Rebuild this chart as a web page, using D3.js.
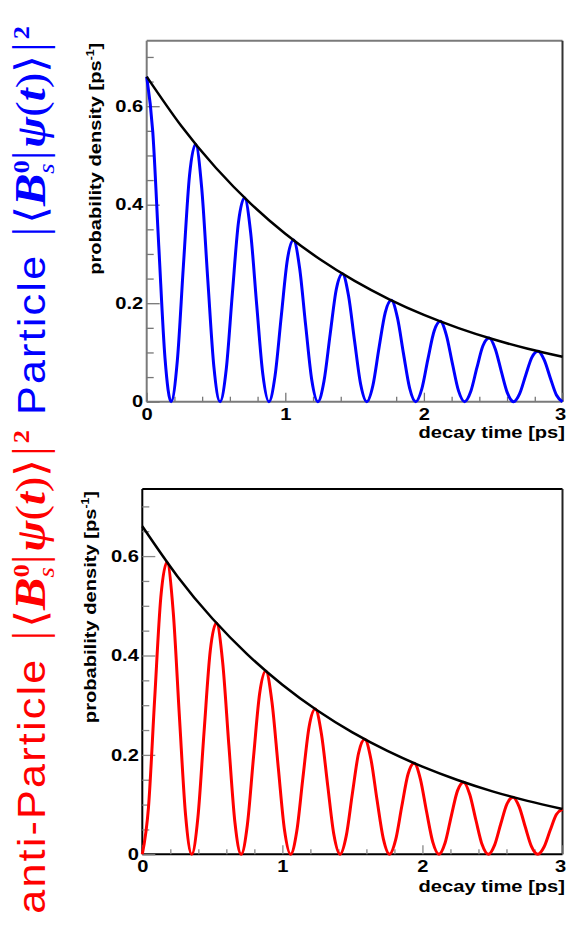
<!DOCTYPE html>
<html><head><meta charset="utf-8">
<script src="https://cdn.jsdelivr.net/npm/d3@7"></script>
<style>body{margin:0;background:#fff}svg{display:block}</style>
</head><body>
<svg id="c" width="566" height="925"></svg>
<script>
// decay time samples [ps]
const times = [0,0.044,0.088,0.132,0.176,0.221,0.265,0.309,0.353,0.397,0.441,0.485,0.529,0.574,0.618,0.662,0.706,0.750,0.794,0.838,0.882,0.926,0.971,1.015,1.059,1.103,1.147,1.191,1.235,1.279,1.324,1.368,1.412,1.456,1.500,1.544,1.588,1.632,1.676,1.721,1.765,1.809,1.853,1.897,1.941,1.985,2.029,2.074,2.118,2.162,2.206,2.250,2.294,2.338,2.382,2.426,2.471,2.515,2.559,2.603,2.647,2.691,2.735,2.779,2.824,2.868,2.912,2.956,3.000];
// particle probability density
const particleValues = [0.660,0.5472,0.3113,0.0885,0,0.0835,0.2771,0.4595,0.5229,0.4335,0.2466,0.0701,0,0.0662,0.2195,0.3640,0.4142,0.3434,0.1954,0.0556,0,0.0524,0.1739,0.2884,0.3281,0.2721,0.1548,0.0440,0,0.0415,0.1378,0.2284,0.2600,0.2155,0.1226,0.0349,0,0.0329,0.1091,0.1810,0.2059,0.1707,0.0971,0.0276,0,0.0261,0.0865,0.1434,0.1631,0.1353,0.0770,0.0219,0,0.0206,0.0685,0.1136,0.1292,0.1072,0.0610,0.0173,0,0.0164,0.0543,0.0900,0.1024,0.0849,0.0483,0.0137,0];
// anti-particle probability density
const antiParticleValues = [0,0.0939,0.3113,0.5163,0.5874,0.4870,0.2771,0.0788,0,0.0743,0.2466,0.4090,0.4654,0.3858,0.2195,0.0624,0,0.0589,0.1954,0.3240,0.3687,0.3057,0.1739,0.0495,0,0.0467,0.1548,0.2567,0.2921,0.2421,0.1378,0.0392,0,0.0370,0.1226,0.2033,0.2314,0.1918,0.1091,0.0310,0,0.0293,0.0971,0.1611,0.1833,0.1520,0.0865,0.0246,0,0.0232,0.0770,0.1276,0.1452,0.1204,0.0685,0.0195,0,0.0184,0.0610,0.1011,0.1150,0.0954,0.0543,0.0154,0,0.0146,0.0483,0.0801,0.0911];
// envelope (no oscillation)
const envTimes = [0,0.25,0.5,0.75,1.0,1.25,1.5,1.75,2.0,2.25,2.5,2.75,3.0];
const envValues = [0.660,0.5596,0.4745,0.4023,0.3411,0.2892,0.2452,0.2079,0.1763,0.1495,0.1267,0.1075,0.0911];
// ticks
const xTickLabels = [0,1,2,3];
const xMinorTicks = [0.2,0.4,0.6,0.8,1.2,1.4,1.6,1.8,2.2,2.4,2.6,2.8];
const yTickLabels = [0,0.2,0.4,0.6];
const yMinorTicks = [0.05,0.1,0.15,0.25,0.3,0.35,0.45,0.5,0.55,0.65,0.7];
const xTitle = "decay time [ps]";
const yTitle = "probability density [ps";

const svg = d3.select("#c");
const FONT = "'Liberation Sans', Arial, Helvetica, sans-serif";
const SX = 1.22;
const FS = 16.5;

const panels = [
  {left:146.7, right:562.5, top:40.7, bottom:401.7, ymax:0.733, values:particleValues, color:"#0000ff",
   frame:"#7a7a7a", frameRight:"#333", tick:"#777", ylabX:101, xlabPad:7, xTitleY:438},
  {left:142.3, right:562.5, top:489, bottom:854.3, ymax:0.735, values:antiParticleValues, color:"#ff0000",
   frame:"#000", frameRight:"#222", tick:"#888", ylabX:96, xlabPad:6, xTitleY:892}
];

panels.forEach(p => {
  const x = d3.scaleLinear().domain([0,3]).range([p.left, p.right]);
  const y = d3.scaleLinear().domain([0,p.ymax]).range([p.bottom, p.top]);
  const g = svg.append("g");

  // frame
  const fr = g.append("g").attr("fill","none").attr("stroke-width",2);
  fr.append("line").attr("x1",p.left).attr("x2",p.right).attr("y1",p.top).attr("y2",p.top).attr("stroke",p.frame);
  fr.append("line").attr("x1",p.left).attr("x2",p.left).attr("y1",p.top).attr("y2",p.bottom).attr("stroke",p.frame);
  fr.append("line").attr("x1",p.left).attr("x2",p.right).attr("y1",p.bottom).attr("y2",p.bottom).attr("stroke",p.frame);
  fr.append("line").attr("x1",p.right).attr("x2",p.right).attr("y1",p.top).attr("y2",p.bottom).attr("stroke",p.frameRight);

  // x axis
  const xa = g.append("g").attr("transform",`translate(0,${p.bottom})`)
    .call(d3.axisBottom(x).tickValues(xTickLabels).tickSize(-9).tickPadding(p.xlabPad).tickFormat(d3.format("d")));
  g.append("g").attr("transform",`translate(0,${p.bottom})`)
    .call(d3.axisBottom(x).tickValues(xMinorTicks).tickSize(-5).tickFormat(""))
    .call(s=>s.select(".domain").remove());
  // y axis
  const ya = g.append("g").attr("transform",`translate(${p.left},0)`)
    .call(d3.axisLeft(y).tickValues(yTickLabels).tickSize(-13).tickPadding(2.8)
      .tickFormat(d => d===0 ? "0" : d3.format(".1f")(d)));
  g.append("g").attr("transform",`translate(${p.left},0)`)
    .call(d3.axisLeft(y).tickValues(yMinorTicks).tickSize(-7).tickFormat(""))
    .call(s=>s.select(".domain").remove());

  g.selectAll(".domain").remove();
  g.selectAll(".tick line").attr("stroke",p.tick).attr("stroke-width",1.3);
  g.selectAll(".tick text").attr("fill","#000").attr("font-family",FONT)
    .attr("font-size",FS).attr("font-weight","bold").attr("transform",`scale(${SX},1)`);
  ya.selectAll(".tick text").attr("x",-2.8);
  // keep the last x label inside the page edge
  xa.selectAll(".tick text").filter(d => d === 3).attr("text-anchor","end").attr("x",3.2/SX);

  // curves
  const line = d3.line().x((d,i)=>x(times[i])).y(d=>y(d)).curve(d3.curveMonotoneX);
  g.append("path").attr("d",line(p.values)).attr("fill","none").attr("stroke",p.color)
    .attr("stroke-width",3).attr("stroke-linejoin","round");
  const eline = d3.line().x((d,i)=>x(envTimes[i])).y(d=>y(d)).curve(d3.curveNatural);
  g.append("path").attr("d",eline(envValues)).attr("fill","none").attr("stroke","#000")
    .attr("stroke-width",2.5);

  // x title
  g.append("text").attr("transform",`translate(565,${p.xTitleY}) scale(${SX},1)`)
    .attr("text-anchor","end").attr("font-family",FONT).attr("font-size",FS).attr("font-weight","bold")
    .text(xTitle);
  // y title
  const yt = g.append("text").attr("transform",`translate(${p.ylabX},${p.top+2}) rotate(-90) scale(${SX},1)`)
    .attr("text-anchor","end").attr("font-family",FONT).attr("font-size",FS).attr("font-weight","bold");
  yt.append("tspan").text(yTitle);
  yt.append("tspan").attr("font-size",10).attr("dy",-7).text("-1");
  yt.append("tspan").attr("dy",7).text("]");
});

// big rotated side labels
function sideLabel(prefix, color) {
  const t = svg.append("text").attr("fill",color).attr("font-size",39).attr("font-family",FONT);
  const serif = "'Liberation Serif','DejaVu Serif',serif";
  t.append("tspan").attr("letter-spacing",2).text(prefix);
  t.append("tspan").attr("font-family","'DejaVu Sans'").attr("font-weight",300).attr("font-size",42).text("|\u27E8");
  t.append("tspan").attr("font-family",serif).attr("font-style","italic").attr("font-weight","bold").attr("font-size",44).text("B");
  t.append("tspan").attr("font-family",serif).attr("font-weight","bold").attr("font-size",24).attr("dy",-16).text("0");
  t.append("tspan").attr("font-family",serif).attr("font-style","italic").attr("font-size",24).attr("dx",-12).attr("dy",25).text("s");
  t.append("tspan").attr("font-family","'DejaVu Sans'").attr("font-weight",300).attr("font-size",42).attr("dy",-9).text("|");
  t.append("tspan").attr("font-family",serif).attr("font-style","italic").attr("font-weight","bold").attr("font-size",42).text("\u03C8");
  t.append("tspan").attr("font-family",serif).attr("font-size",42).text("(");
  t.append("tspan").attr("font-family",serif).attr("font-style","italic").attr("font-weight","bold").attr("font-size",42).text("t");
  t.append("tspan").attr("font-family",serif).attr("font-size",42).text(")");
  t.append("tspan").attr("font-family","'DejaVu Sans'").attr("font-weight",300).attr("font-size",42).text("\u27E9|");
  t.append("tspan").attr("font-family",serif).attr("font-weight","bold").attr("font-size",24).attr("dy",-16).text("2");
  return t;
}
const blue = sideLabel("Particle ", "#0000ff");
const red = sideLabel("anti-Particle ", "#ff0000");
const bl = blue.node().getComputedTextLength();
const s = 402 / bl;
blue.attr("text-anchor","start").attr("transform",`translate(45,415) rotate(-90) scale(${s},1)`);
red.attr("text-anchor","end").attr("transform",`translate(45,430) rotate(-90) scale(${s},1)`);
</script>
</body></html>
